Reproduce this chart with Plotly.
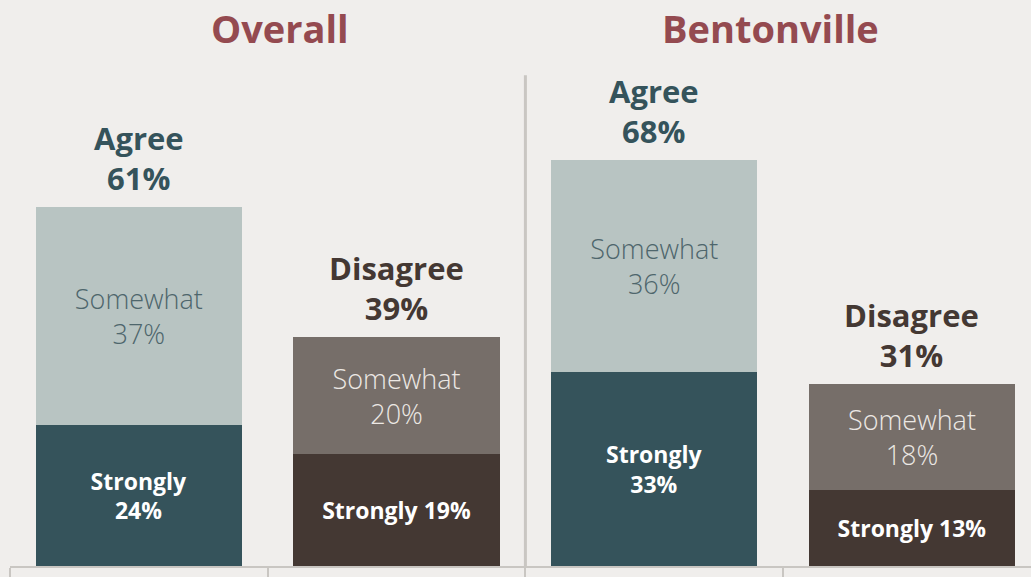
import plotly.graph_objects as go

# data
groups = ["Overall", "Bentonville"]
sides = ["Agree", "Disagree", "Agree", "Disagree"]
totals = [61, 39, 68, 31]
strongly = [24, 19, 33, 13]
somewhat = [37, 20, 36, 18]

BG = "#F0EEEC"
TITLE_COLOR = "#944A50"
AXIS_COLOR = "#C9C6C2"
DARK = {"Agree": "#35535B", "Disagree": "#443833"}
LIGHT = {"Agree": "#B8C4C2", "Disagree": "#766E69"}
LIGHT_TEXT = {"Agree": "#4E666C", "Disagree": "#ECE8E4"}
FONT = "Open Sans"

x = list(range(len(sides)))

strong_text = [
    f"Strongly<br>{v}%" if s == "Agree" else f"Strongly {v}%"
    for s, v in zip(sides, strongly)
]
some_text = [f"Somewhat<br>{v}%" for v in somewhat]

fig = go.Figure()
fig.add_trace(go.Bar(
    x=x, y=strongly, width=0.8,
    marker=dict(color=[DARK[s] for s in sides], line_width=0),
    text=strong_text, textposition="inside", insidetextanchor="middle",
    textangle=0, constraintext="none",
    textfont=dict(family=FONT, size=23, color="white", weight="bold"),
    hoverinfo="skip",
))
fig.add_trace(go.Bar(
    x=x, y=somewhat, width=0.8,
    marker=dict(color=[LIGHT[s] for s in sides], line_width=0),
    text=some_text, textposition="inside", insidetextanchor="middle",
    textangle=0, constraintext="none",
    textfont=dict(family=FONT, size=27, weight=300,
                  color=[LIGHT_TEXT[s] for s in sides]),
    hoverinfo="skip",
))

# labels above each bar
for xi, s, t in zip(x, sides, totals):
    fig.add_annotation(
        x=xi, y=strongly[xi] + somewhat[xi], yanchor="bottom", yshift=6,
        text=f"<b>{s}<br>{t}%</b>", showarrow=False,
        font=dict(family=FONT, size=31, color=DARK[s]),
    )

# panel titles
for g, px_ in zip(groups, [280, 770]):
    fig.add_annotation(
        x=(px_ - 10) / 1021, xref="paper", xanchor="center",
        y=1.0, yref="paper", yanchor="top", yshift=0,
        text=f"<b>{g}</b>", showarrow=False,
        font=dict(family=FONT, size=38, color=TITLE_COLOR),
    )

# divider between the two panels
fig.add_shape(
    type="line", xref="x", yref="y", x0=1.5, x1=1.5, y0=0, y1=83.5,
    line=dict(color=AXIS_COLOR, width=3),
)

fig.update_layout(
    barmode="stack",
    width=1031, height=577,
    margin=dict(l=10, r=0, t=0, b=11),
    paper_bgcolor=BG, plot_bgcolor=BG,
    showlegend=False,
    xaxis=dict(
        range=[-0.5, 3.462], showgrid=False, zeroline=False,
        showline=True, linecolor=AXIS_COLOR, linewidth=2,
        tickvals=[-0.5, 0.5, 1.5, 2.5], ticks="outside", ticklen=11,
        tickcolor=AXIS_COLOR, tickwidth=2, showticklabels=False,
    ),
    yaxis=dict(range=[0, 96.3], visible=False),
)

fig.write_html(
    "out.html",
    config={"displayModeBar": False},
    post_script="document.body.style.margin='0';",
)
